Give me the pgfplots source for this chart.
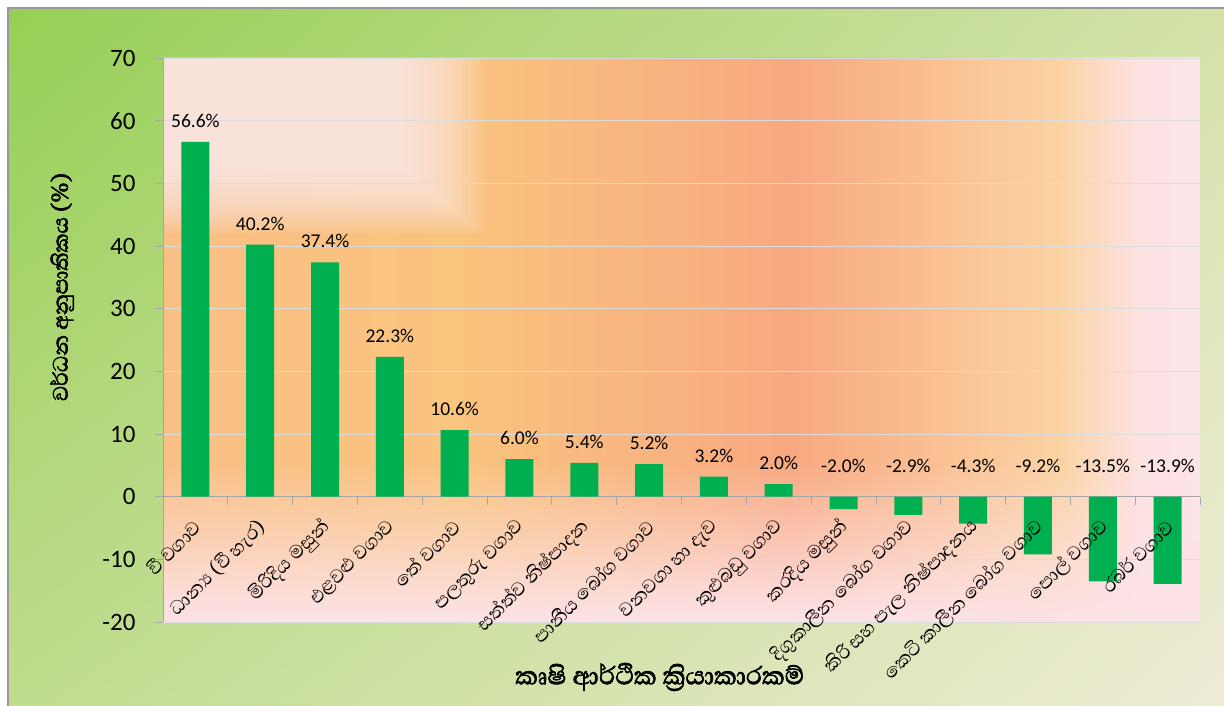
\documentclass[border=0pt]{standalone}
\usepackage{pgfplots}
\pgfplotsset{compat=1.18}
\usepackage{fontspec}
\setmainfont{Carlito}
\newfontfamily\sinhf[Script=Sinhala]{Abhaya Libre}
\newfontfamily\sinhb[Script=Sinhala, FakeBold=2]{Abhaya Libre}
\usetikzlibrary{fadings,shadings}
\definecolor{barg}{HTML}{00B050}
\definecolor{gridc}{HTML}{DCDCDC}
\definecolor{axc}{HTML}{A6A6A6}
\definecolor{pinkb}{HTML}{FDE3E8}
\definecolor{salmon}{HTML}{F8A880}
\definecolor{hA}{HTML}{F9BF85}
\definecolor{hB}{HTML}{F9C47E}
\definecolor{hC}{HTML}{F8A880}
\definecolor{hD}{HTML}{FBD3A2}
\definecolor{hE}{HTML}{FDE2E2}
\definecolor{hF}{HTML}{FDE5EA}
\definecolor{whitep}{HTML}{FDEDEE}
\definecolor{bgul}{HTML}{96CF55}
\definecolor{bgur}{HTML}{D4E2AA}
\definecolor{bgll}{HTML}{C0DC8E}
\definecolor{bglr}{HTML}{EFECD6}
\pgfdeclarehorizontalshading{plotsh}{100bp}{color(0bp)=(hA); color(25bp)=(hA); color(39.3bp)=(hB); color(55.2bp)=(hC); color(68.2bp)=(hD); color(72.1bp)=(hE); color(75bp)=(hF); color(100bp)=(hF)}
\tikzfading[name=midband, top color=transparent!100, middle color=transparent!0, bottom color=transparent!100]
\begin{document}
\begin{tikzpicture}[x=1pt,y=1pt]
% outer background
\fill[white] (0,0) rectangle (1224,706);
\shade[upper left=bgul, upper right=bgur, lower left=bgll, lower right=bglr]
  (8,0) rectangle (1224,698);
\draw[gray!80, line width=1.2pt] (8,0) -- (8,698) -- (1224,698);
% plot area background
\shade[shading=plotsh] (163,84) rectangle (1200,648);
\fill[salmon, path fading=midband] (163,196) rectangle (800,436);
\fill[pinkb, path fading=north] (163,84) rectangle (1200,246);
\foreach \k in {0,...,19} {
  \fill[whitep, opacity=0.09] (163,648) rectangle (163+320-4.5*\k, 648-175+3.5*\k);
}
\begin{axis}[
  at={(163pt,84pt)}, anchor=south west,
  scale only axis, width=1037pt, height=564pt,
  xmin=-0.5, xmax=15.5, ymin=-20, ymax=70,
  axis x line=middle, axis y line=left,
  axis line style={-, draw=axc, line width=0.8pt},
  ytick={-20,-10,0,10,20,30,40,50,60,70},
  yticklabels={-20,-10,0,10,20,30,40,50,60,70},
  yticklabel style={font=\fontsize{25}{28}\selectfont, xshift=-16pt},
  ymajorgrids, grid style={draw=gridc, line width=0.6pt},
  tick align=outside,
  major tick length=8pt,
  tick style={draw=axc, line width=0.8pt},
  xtick={-0.5,0.5,...,15.5},
  xticklabels={},
  xlabel={\sinhb කෘෂි ආර්ථික ක්‍රියාකාරකම්},
  xlabel style={at={(axis description cs:0.479,-0.0975)}, anchor=center, font=\fontsize{32}{35}\selectfont},
  ylabel={\sinhb වර්ධන අනුපාතිකය (\%)},
  ylabel style={at={(axis description cs:-0.0974,0.594)}, anchor=center, rotate=0, font=\fontsize{27}{30}\selectfont},
  clip=false,
]
\addplot[ybar, bar shift=0pt, bar width=28pt, fill=barg, draw=none]
  coordinates {(0,56.6) (1,40.2) (2,37.4) (3,22.3) (4,10.6) (5,6.0) (6,5.4) (7,5.2) (8,3.2) (9,2.0)
               (10,-2.0) (11,-2.9) (12,-4.3) (13,-9.2) (14,-13.5) (15,-13.9)};
\addplot[only marks, mark=none, nodes near coords, point meta=explicit symbolic,
  nodes near coords style={anchor=center, yshift=21pt, font=\fontsize{19.5}{22}\selectfont, text=black}]
  coordinates {(0,56.6)[56.6\%] (1,40.2)[40.2\%] (2,37.4)[37.4\%] (3,22.3)[22.3\%] (4,10.6)[10.6\%]
               (5,6.0)[6.0\%] (6,5.4)[5.4\%] (7,5.2)[5.2\%] (8,3.2)[3.2\%] (9,2.0)[2.0\%]};
\addplot[only marks, mark=none, nodes near coords, point meta=explicit symbolic,
  nodes near coords style={anchor=center, yshift=31pt, font=\fontsize{19.5}{22}\selectfont, text=black}]
  coordinates {(10,0)[-2.0\%] (11,0)[-2.9\%] (12,0)[-4.3\%] (13,0)[-9.2\%] (14,0)[-13.5\%] (15,0)[-13.9\%]};
% category labels (drawn over the bars)
\addplot[only marks, mark=none, nodes near coords, point meta=explicit symbolic,
  nodes near coords style={font=\sinhf\fontsize{24}{27}\selectfont, text=black, inner sep=0pt,
    xshift=2pt, yshift=-27pt, rotate=45, anchor=east}]
  coordinates {(0,0)[වී වගාව] (1,0)[ධාන්‍ය (වී හැර)] (2,0)[මිරිදිය මසුන්] (3,0)[එළවළු වගාව]
               (4,0)[තේ වගාව] (5,0)[පලතුරු වගාව] (6,0)[සත්ත්ව නිෂ්පාදන] (7,0)[පානීය බෝග වගාව]
               (8,0)[වනවගා හා දැව] (9,0)[කුළුබඩු වගාව] (10,0)[කරදිය මසුන්] (11,0)[දිගුකාලීන බෝග වගාව]
               (12,0)[කිරි සහ පැල නිෂ්පාදනය] (13,0)[කෙටි කාලීන බෝග වගාව] (14,0)[පොල් වගාව] (15,0)[රබර් වගාව]};
\end{axis}
\pgfresetboundingbox
\useasboundingbox (0,0) rectangle (1224,706);
\end{tikzpicture}
\end{document}
